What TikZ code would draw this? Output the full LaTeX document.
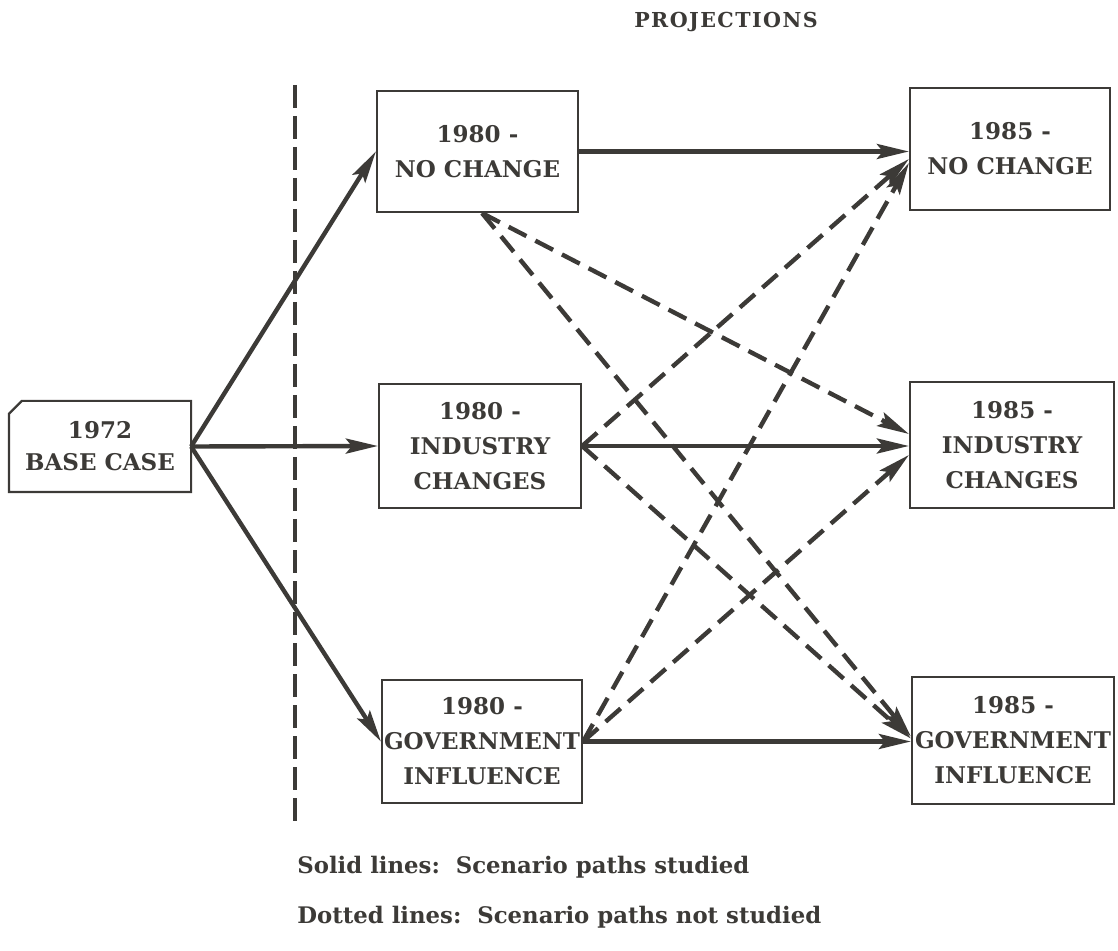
\documentclass[tikz,border=0pt]{standalone}
\usepackage{fontspec}
\setmainfont{DejaVu Serif}
\newfontfamily\titlefont{DejaVu Serif}[LetterSpace=7]
\usetikzlibrary{arrows.meta,calc}
\definecolor{ink}{HTML}{3C3A37}

\begin{document}
\begin{tikzpicture}[x=0.5pt,y=-0.5pt,
  stage/.style={draw=ink,line width=1.1pt,inner sep=0pt,align=center,text=ink,
    font=\bfseries\fontsize{11.5}{17.5}\selectfont},
  studied/.style={ink,line width=2.2pt,-{Stealth[length=16pt,width=7.5pt,inset=3pt]}},
  unstudied/.style={studied,dash pattern=on 10pt off 5pt},
  divider/.style={ink,line width=2.2pt,dash pattern=on 11.5pt off 4pt},
  legend/.style={anchor=west,inner sep=0pt,text=ink,font=\bfseries\fontsize{11.4}{13}\selectfont}]

\useasboundingbox (0,0) rectangle (1118,951);

% heading
\node[text=ink,font=\titlefont\bfseries\fontsize{10.3}{12}\selectfont] (head) at (726,22) {PROJECTIONS};

% divider between base year and projections
\coordinate (dtop) at (295,85);
\coordinate (dbot) at (295,822);
\draw[divider] (dtop) -- (dbot);

% base case (clipped corner drawn separately)
\node[stage,draw=none,minimum width=90pt,minimum height=44.5pt,
  font=\bfseries\fontsize{11.5}{16}\selectfont] (b72) at (100,446.5) {1972\\BASE CASE};
\draw[ink,line width=1.1pt] (b72.south west) -- ($(b72.north west)+(0,13)$)
  -- ($(b72.north west)+(13,0)$) -- (b72.north east) -- (b72.south east) -- cycle;

% 1980 scenarios
\node[stage,minimum width=100.5pt,minimum height=60.5pt] (n80) at (477.5,151.5) {1980 -\\NO CHANGE};
\node[stage,minimum width=101pt,minimum height=62pt] (i80) at (480,446) {1980 -\\INDUSTRY\\CHANGES};
\node[stage,minimum width=100pt,minimum height=61.5pt] (g80) at (482,741.5) {1980 -\\GOVERNMENT\\INFLUENCE};

% 1985 scenarios
\node[stage,minimum width=100pt,minimum height=61pt] (n85) at (1010,149) {1985 -\\NO CHANGE};
\node[stage,minimum width=102pt,minimum height=63pt] (i85) at (1012,445) {1985 -\\INDUSTRY\\CHANGES};
\node[stage,minimum width=101pt,minimum height=63.5pt] (g85) at (1013,740.5) {1985 -\\GOVERNMENT\\INFLUENCE};

% studied paths
\draw[studied] (b72.east) -- (n80.west);
\draw[studied] (b72.east) -- (i80.west);
\draw[studied] (b72.east) -- (g80.west);
\draw[studied] (n80.east) -- (n80.east -| n85.west);
\draw[studied] (i80.east) -- (i80.east -| i85.west);
\draw[studied] (g80.east) -- (g80.east -| g85.west);

% paths not studied
\coordinate (n80s) at ($(n80.south)+(4.5,0)$);
\draw[unstudied] (n80s) -- ($(i85.west)+(0,-11)$);
\draw[unstudied] (n80s) -- ($(g85.west)+(0,-4)$);
\draw[unstudied] (i80.east) -- ($(n85.west)+(0,10)$);
\draw[unstudied] (i80.east) -- ($(g85.west)+(0,-2)$);
\draw[unstudied] (g80.east) -- ($(n85.west)+(0,14)$);
\draw[unstudied] (g80.east) -- ($(i85.west)+(0,10)$);

% legend
\node[legend] (l1) at (297,867) {Solid lines:\ \ Scenario paths studied};
\node[legend] (l2) at (297,917) {Dotted lines:\ \ Scenario paths not studied};
\end{tikzpicture}
\end{document}
